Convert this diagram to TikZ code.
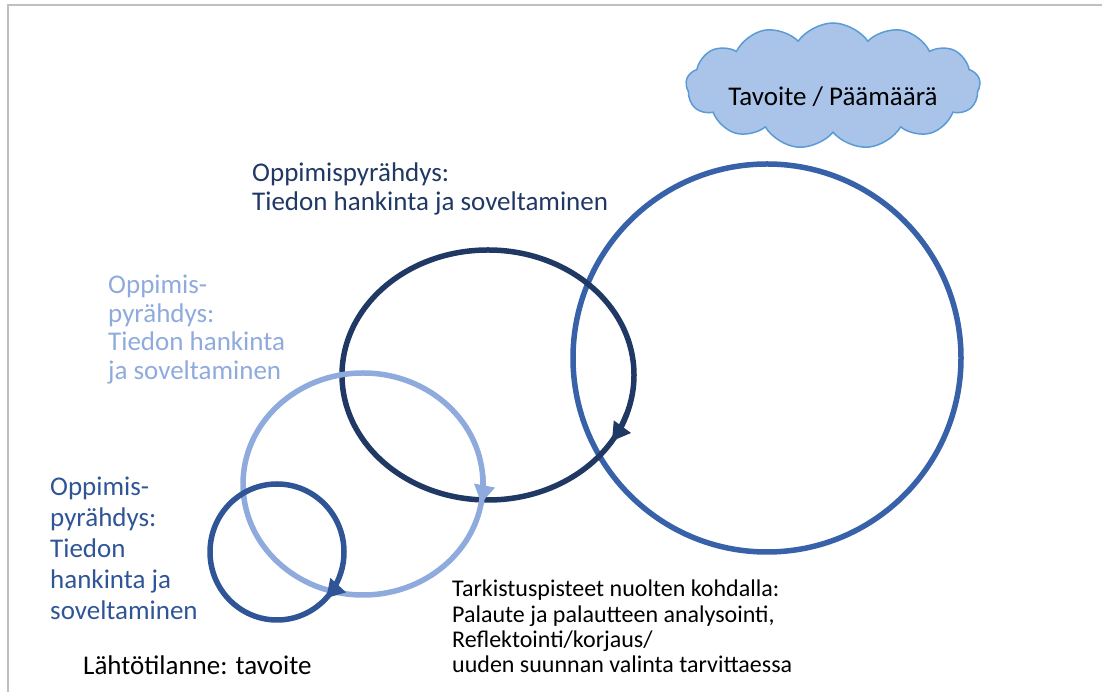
\documentclass[tikz,border=0pt]{standalone}
\usepackage{fontspec}
\setmainfont{Carlito}
\usetikzlibrary{arrows.meta,shapes.symbols}

\definecolor{ringbig}{HTML}{3761A8}
\definecolor{ringdark}{HTML}{203864}
\definecolor{ringlight}{HTML}{8FAADC}
\definecolor{ringsmall}{HTML}{2F5597}
\definecolor{cloudfill}{HTML}{A9C4E8}
\definecolor{cloudline}{HTML}{5B9BD5}
\definecolor{framegray}{HTML}{BFBFBF}

\tikzset{
  ring/.style={line width=5.5pt},
  arrowtip/.style={-{Triangle[width=20pt,length=18pt]}},
  lbl/.style={anchor=north west, inner sep=0pt, align=left,
    font=\fontsize{27}{29}\selectfont},
}

\begin{document}
\begin{tikzpicture}[x=1pt, y=1pt]

\useasboundingbox (0,0) rectangle (1102,692);
\draw[framegray, line width=2pt] (8,0) -- (8,687) -- (1102,687);

\def\dx{488}
\def\dy{317}
\def\lx{363}
\def\ly{208}
\def\sx{277}
\def\sy{140}

\draw[ringbig, ring] (767,334) circle[radius=194];

\draw[ringdark, ring] (\dx,\dy) ellipse[x radius=146, y radius=125];
\draw[ringdark, ring, arrowtip] (\dx,\dy) ++(-18:146 and 125)
  arc[start angle=-18, end angle=-32, x radius=146, y radius=125];

\draw[ringlight, ring] (\lx,\ly) ellipse[x radius=120, y radius=111];
\draw[ringlight, ring, arrowtip] (\lx,\ly) ++(5:120 and 111)
  arc[start angle=5, end angle=-10, x radius=120, y radius=111];

\draw[ringsmall, ring] (\sx,\sy) ellipse[x radius=67, y radius=68];
\draw[ringsmall, ring, arrowtip] (\sx,\sy) ++(-28:67 and 68)
  arc[start angle=-28, end angle=-43, x radius=67, y radius=68];

\node[cloud, cloud puffs=13, cloud puff arc=110, cloud ignores aspect,
  draw=cloudline, fill=cloudfill, line width=1.5pt,
  minimum width=288pt, minimum height=126pt,
  inner sep=0pt, text height=40pt, text depth=0pt,
  font=\fontsize{27}{29}\selectfont] (goal) at (833,606) {Tavoite / Päämäärä};

\node[lbl, text=ringdark] (sprint3) at (252,529)
  {Oppimispyrähdys:\\Tiedon hankinta ja soveltaminen};
\node[lbl, text=ringlight, font=\fontsize{27}{28.5}\selectfont] (sprint2) at (108,417)
  {Oppimis-\\pyrähdys:\\Tiedon hankinta\\ja soveltaminen};
\node[lbl, text=ringsmall, font=\fontsize{27}{31}\selectfont] (sprint1) at (50,215)
  {Oppimis-\\pyrähdys:\\Tiedon\\hankinta ja\\soveltaminen};
\node[lbl] (start) at (83,36) {Lähtötilanne: tavoite};
\node[lbl, font=\fontsize{24}{25.2}\selectfont] (check) at (452,112)
  {Tarkistuspisteet nuolten kohdalla:\\Palaute ja palautteen analysointi,\\Reflektointi/korjaus/\\uuden suunnan valinta tarvittaessa};

\end{tikzpicture}
\end{document}
